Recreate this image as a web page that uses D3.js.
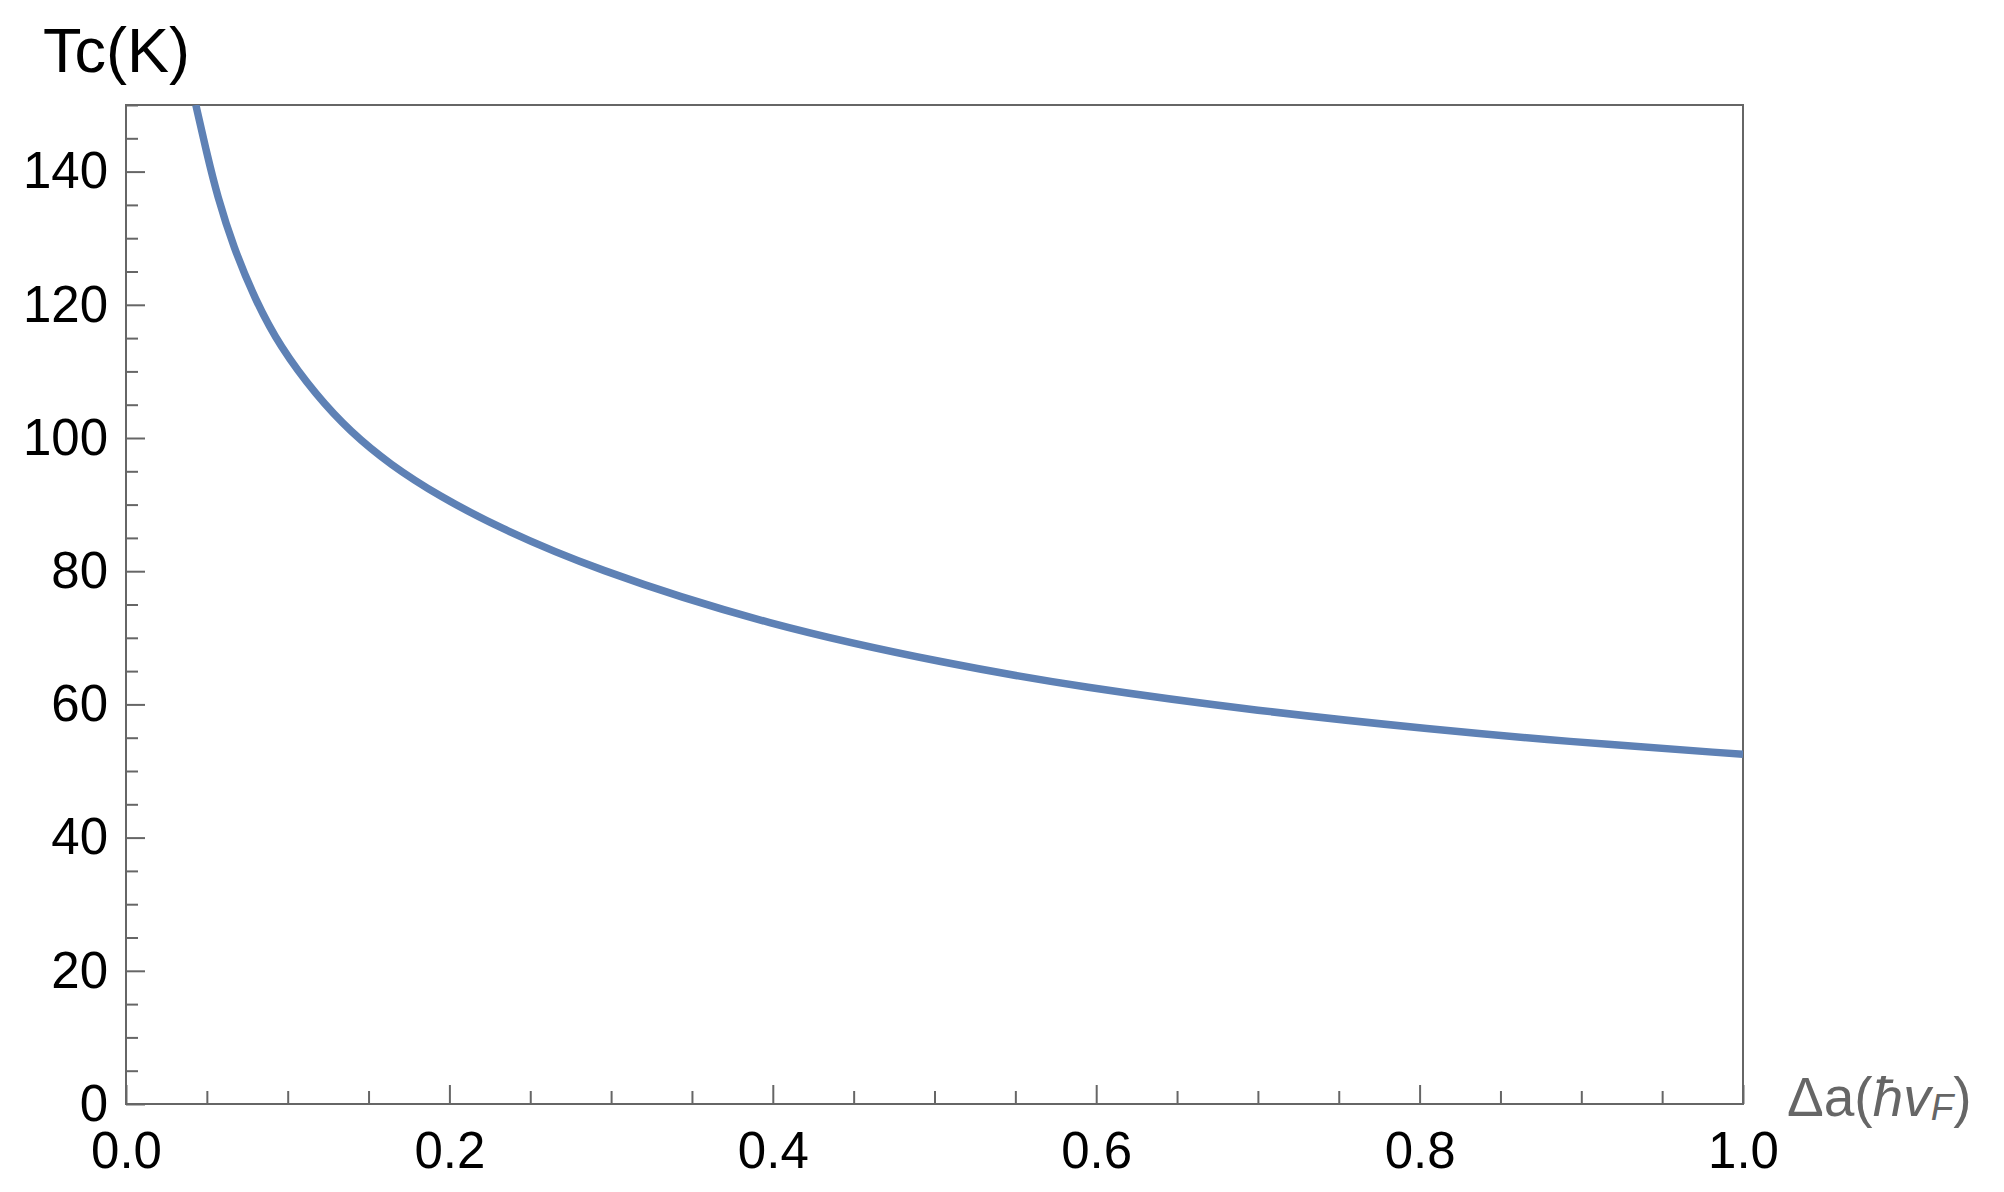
<!DOCTYPE html>
<html>
<head>
<meta charset="utf-8">
<script src="https://cdn.jsdelivr.net/npm/d3@7"></script>
<style>
  body { margin: 0; background: #fff; }
  text { font-family: "Liberation Sans", Arial, sans-serif; }
</style>
</head>
<body>
<div id="chart"></div>
<script>
// Data

var deltaA = [0.0432, 0.0499, 0.0565, 0.0664, 0.0798, 0.0952, 0.118, 0.1385, 0.1633, 0.1942,
              0.2293, 0.287, 0.398, 0.51, 0.59, 0.70, 0.81, 0.887, 1.0];
var tc     = [150, 142.8, 136.3, 128.7, 120.8, 113.7, 106.3, 101.0, 96.0, 91.2,
              86.7, 80.5, 71.8, 66.0, 62.6, 59.0, 56.2, 54.5, 52.5];

var xMajor = [0, 0.2, 0.4, 0.6, 0.8, 1.0];
var yMajor = [0, 20, 40, 60, 80, 100, 120, 140];

// Layout

var width = 2004;
var height = 1192;
var plotL = 126, plotR = 1743, plotT = 105, plotB = 1104;
var frameColor = "#666";

var svg = d3.select("#chart").append("svg")
    .attr("width", width)
    .attr("height", height);

var x = d3.scaleLinear().domain([0, 1]).range([plotL, plotR]);
var y = d3.scaleLinear().domain([0, 150]).range([plotB, plotT]);

// minor ticks every 0.05 / 5
var xMinor = d3.range(0, 1.0001, 0.05).filter(function(d) { return xMajor.every(function(m) { return Math.abs(m - d) > 1e-6; }); });
var yMinor = d3.range(0, 150.001, 5).filter(function(d) { return d % 20 !== 0; });

// Axes (ticks point inward)

var xAxis = d3.axisBottom(x).tickValues(xMajor).tickSize(-19).tickFormat(d3.format(".1f")).tickPadding(28);
var yAxis = d3.axisLeft(y).tickValues(yMajor).tickSize(-19).tickFormat(d3.format("d")).tickPadding(18);

var gx = svg.append("g").attr("transform", "translate(0," + plotB + ")").call(xAxis);
var gy = svg.append("g").attr("transform", "translate(" + plotL + ",0)").call(yAxis);

svg.append("g").attr("transform", "translate(0," + plotB + ")")
    .call(d3.axisBottom(x).tickValues(xMinor).tickSize(-13).tickFormat(""));
svg.append("g").attr("transform", "translate(" + plotL + ",0)")
    .call(d3.axisLeft(y).tickValues(yMinor).tickSize(-12).tickFormat(""));

svg.selectAll(".domain").remove();
svg.selectAll(".tick line").attr("stroke", frameColor).attr("stroke-width", 2);
svg.selectAll(".tick text")
    .attr("fill", "#000")
    .style("font-size", "51px");
gx.selectAll(".tick text").attr("dy", "0.71em");

// Frame

svg.append("rect")
    .attr("x", plotL).attr("y", plotT)
    .attr("width", plotR - plotL).attr("height", plotB - plotT)
    .attr("fill", "none")
    .attr("stroke", frameColor)
    .attr("stroke-width", 2);

// Curve

svg.append("clipPath").attr("id", "plotclip")
  .append("rect")
    .attr("x", plotL).attr("y", plotT)
    .attr("width", plotR - plotL).attr("height", plotB - plotT);

var line = d3.line()
    .x(function(d, i) { return x(deltaA[i]); })
    .y(function(d) { return y(d); })
    .curve(d3.curveBasis);   // smooths out reading noise

svg.append("path")
    .attr("d", line(tc))
    .attr("clip-path", "url(#plotclip)")
    .attr("fill", "none")
    .attr("stroke", "#5E81B5")
    .attr("stroke-width", 7.5);

// Labels

svg.append("text")
    .attr("x", 43).attr("y", 72)
    .attr("fill", "#000")
    .style("font-size", "63px")
    .text("Tc(K)");

var xl = svg.append("text")
    .attr("x", 1787).attr("y", 1116)
    .attr("fill", frameColor)
    .style("font-size", "55px");
xl.append("tspan").text("Δa(");
xl.append("tspan").style("font-style", "italic").text("ħv");
xl.append("tspan").style("font-style", "italic").style("font-size", "37px").attr("dy", 4).text("F");
xl.append("tspan").attr("dy", -4).text(")");
</script>
</body>
</html>
